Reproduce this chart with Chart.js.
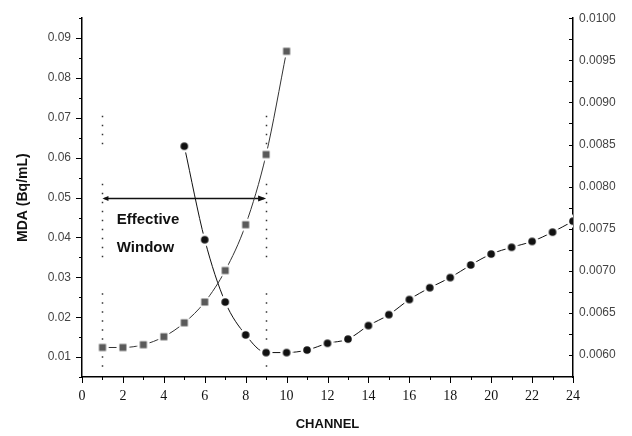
<!DOCTYPE html>
<html>
<head>
<meta charset="utf-8">
<script src="https://cdn.jsdelivr.net/npm/chart.js@4.4.0/dist/chart.umd.min.js"></script>
<style>
  html, body { margin: 0; padding: 0; background: #fff; }
  #wrap { width: 632px; height: 436px; }
</style>
</head>
<body>
<div id="wrap"><canvas id="myChart" width="632" height="436"></canvas></div>
<script>
// MDA on the left axis (squares)
const mdaChannels = [1, 2, 3, 4, 5, 6, 7, 8, 9, 10];
const mdaValues = [0.0124, 0.0124, 0.0131, 0.0151, 0.0186, 0.0238, 0.0317, 0.0432, 0.0608, 0.0867];

// right axis series (circles)
const rightChannels = [5, 6, 7, 8, 9, 10, 11, 12, 13, 14, 15, 16, 17, 18, 19, 20, 21, 22, 23, 24];
const rightValues = [
  0.00848, 0.00737, 0.00663, 0.00624, 0.00603, 0.00603, 0.00606, 0.00614, 0.00619, 0.00635,
  0.00648, 0.00666, 0.0068, 0.00692, 0.00707, 0.0072, 0.00728, 0.00735, 0.00746, 0.00759,
];

const channelTicks = [0, 2, 4, 6, 8, 10, 12, 14, 16, 18, 20, 22, 24];
const mdaTicks = [0.01, 0.02, 0.03, 0.04, 0.05, 0.06, 0.07, 0.08, 0.09];
const rightTicks = [0.006, 0.0065, 0.007, 0.0075, 0.008, 0.0085, 0.009, 0.0095, 0.01];

// effective window annotation
const windowEdges = [1, 9];
const windowArrowLevel = 0.05;
const windowDotRuns = [[0.0705, 0.063], [0.0535, 0.035], [0.026, 0.007]];
const windowLabel = ["Effective", "Window"];
const windowLabelChannel = 1.7;
const windowLabelLevels = [0.0444, 0.0373];

function markCanvas(shape, color) {
  const c = document.createElement("canvas");
  c.width = 14;
  c.height = 14;
  const g = c.getContext("2d");
  g.fillStyle = "#fff";
  g.beginPath();
  g.arc(7, 7, 6.5, 0, Math.PI * 2);
  g.fill();
  g.fillStyle = color;
  if (shape == "square") {
    g.fillRect(3.5, 3.5, 7, 7);
  } else {
    g.beginPath();
    g.arc(7, 7, 3.8, 0, Math.PI * 2);
    g.fill();
  }
  return c;
}

const extras = {
  id: "extras",
  beforeDatasetsDraw(chart) {
    const ctx = chart.ctx;
    const x = chart.scales.x;
    const yL = chart.scales.yL;
    ctx.save();
    // dotted window edges
    ctx.strokeStyle = "#333";
    ctx.lineWidth = 1.5;
    ctx.setLineDash([1.5, 7.5]);
    for (const ch of windowEdges) {
      const px = Math.round(x.getPixelForValue(ch)) + 0.5;
      for (const run of windowDotRuns) {
        ctx.beginPath();
        ctx.moveTo(px, yL.getPixelForValue(run[0]));
        ctx.lineTo(px, yL.getPixelForValue(run[1]));
        ctx.stroke();
      }
    }
    ctx.setLineDash([]);
    // double arrow
    const ay = Math.round(yL.getPixelForValue(windowArrowLevel)) + 0.5;
    const ax1 = x.getPixelForValue(windowEdges[0]);
    const ax2 = x.getPixelForValue(windowEdges[1]);
    ctx.strokeStyle = "#111";
    ctx.fillStyle = "#111";
    ctx.lineWidth = 1.3;
    ctx.beginPath();
    ctx.moveTo(ax1 + 2, ay);
    ctx.lineTo(ax2 - 2, ay);
    ctx.stroke();
    ctx.beginPath();
    ctx.moveTo(ax1, ay);
    ctx.lineTo(ax1 + 6, ay - 2.5);
    ctx.lineTo(ax1 + 6, ay + 2.5);
    ctx.fill();
    ctx.beginPath();
    ctx.moveTo(ax2, ay);
    ctx.lineTo(ax2 - 8, ay - 3);
    ctx.lineTo(ax2 - 8, ay + 3);
    ctx.fill();
    // label
    ctx.font = "bold 15px 'Liberation Sans', Arial, sans-serif";
    ctx.textBaseline = "middle";
    ctx.textAlign = "left";
    for (let i = 0; i < windowLabel.length; i++) {
      ctx.fillText(windowLabel[i], x.getPixelForValue(windowLabelChannel), yL.getPixelForValue(windowLabelLevels[i]));
    }
    ctx.restore();
  },
  afterDraw(chart) {
    const ctx = chart.ctx;
    const x = chart.scales.x;
    const yL = chart.scales.yL;
    const yR = chart.scales.yR;
    ctx.save();
    ctx.strokeStyle = "#000";
    ctx.lineWidth = 1;
    ctx.beginPath();
    // bottom ticks, outward
    for (let v = 0; v <= 24; v++) {
      const px = Math.round(x.getPixelForValue(v)) + 0.5;
      ctx.moveTo(px, x.top);
      ctx.lineTo(px, x.top + (v % 2 == 0 ? 6 : 3));
    }
    // left ticks, outward
    for (let k = 1; k <= 19; k++) {
      const py = Math.round(yL.getPixelForValue(k * 0.005)) + 0.5;
      ctx.moveTo(yL.right, py);
      ctx.lineTo(yL.right - (k % 2 == 0 ? 6 : 3), py);
    }
    // right ticks, inward
    for (let k = 23; k <= 40; k++) {
      const py = Math.round(yR.getPixelForValue(k * 0.00025)) + 0.5;
      ctx.moveTo(yR.left, py);
      ctx.lineTo(yR.left - 4, py);
    }
    ctx.stroke();
    ctx.restore();
  },
};

const ctx = document.getElementById("myChart");

new Chart(ctx, {
  type: "line",
  data: {
    datasets: [
      {
        label: "MDA",
        data: mdaChannels.map((c, i) => ({ x: c, y: mdaValues[i] })),
        yAxisID: "yL",
        borderColor: "#333",
        borderWidth: 1,
        pointStyle: markCanvas("square", "#5a5a5a"),
        cubicInterpolationMode: "monotone",
      },
      {
        label: "right",
        data: rightChannels.map((c, i) => ({ x: c, y: rightValues[i] })),
        yAxisID: "yR",
        borderColor: "#111",
        borderWidth: 1,
        pointStyle: markCanvas("circle", "#111"),
        cubicInterpolationMode: "monotone",
      },
    ],
  },
  options: {
    responsive: false,
    animation: false,
    layout: { padding: { top: 18, left: 0, right: 0, bottom: 0 } },
    plugins: {
      legend: { display: false },
      tooltip: { enabled: false },
    },
    scales: {
      x: {
        type: "linear",
        min: 0,
        max: 24,
        afterBuildTicks: (s) => {
          s.ticks = channelTicks.map((v) => ({ value: v }));
        },
        afterFit: (s) => {
          s.height = 59;
        },
        grid: { display: false, drawTicks: false },
        border: { color: "#000", width: 1.5 },
        ticks: {
          padding: 11,
          maxRotation: 0,
          autoSkip: false,
          color: "#111",
          font: { family: "'Liberation Serif', serif", size: 14 },
        },
        title: {
          display: true,
          text: "CHANNEL",
          color: "#111",
          font: { family: "'Liberation Sans', Arial, sans-serif", size: 13, weight: "bold" },
          padding: { top: 0, bottom: 4 },
        },
      },
      yL: {
        type: "linear",
        position: "left",
        min: 0.005,
        max: 0.095,
        afterBuildTicks: (s) => {
          s.ticks = mdaTicks.map((v) => ({ value: v }));
        },
        afterFit: (s) => {
          s.width = 82;
        },
        grid: { display: false, drawTicks: false },
        border: { color: "#000", width: 1.5 },
        ticks: {
          padding: 11,
          color: "#444",
          font: { family: "'Liberation Sans', Arial, sans-serif", size: 12 },
          callback: (v) => v.toFixed(2),
        },
        title: {
          display: true,
          text: "MDA (Bq/mL)",
          color: "#111",
          font: { family: "'Liberation Sans', Arial, sans-serif", size: 14, weight: "bold" },
          padding: { top: 15, bottom: 0 },
        },
      },
      yR: {
        type: "linear",
        position: "right",
        min: 0.00574,
        max: 0.01,
        afterBuildTicks: (s) => {
          s.ticks = rightTicks.map((v) => ({ value: v }));
        },
        afterFit: (s) => {
          s.width = 59;
        },
        grid: { display: false, drawTicks: false },
        border: { color: "#000", width: 1.5 },
        ticks: {
          padding: 6,
          color: "#444",
          font: { family: "'Liberation Sans', Arial, sans-serif", size: 12 },
          callback: (v) => v.toFixed(4),
        },
      },
    },
  },
  plugins: [extras],
});
</script>
</body>
</html>
